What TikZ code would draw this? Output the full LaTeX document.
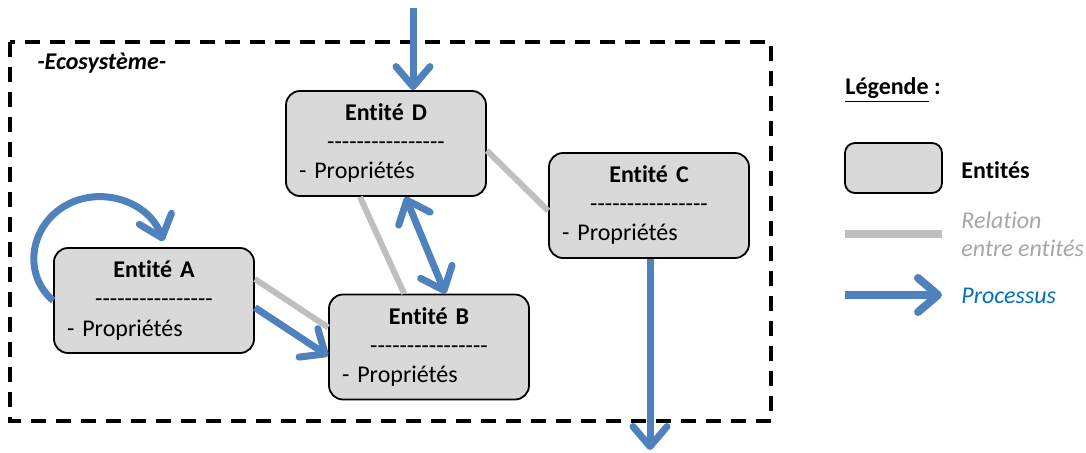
\documentclass[tikz,border=0pt]{standalone}
\usepackage{fontspec}
\setmainfont{Carlito}[Ligatures={NoCommon}]
\usepackage{xcolor}
\usepackage{tikz}
\usetikzlibrary{positioning,arrows.meta,calc}
\definecolor{ecoBlue}{HTML}{4F81BD}
\definecolor{ecoInk}{HTML}{0070C0}
\definecolor{relGrey}{HTML}{BFBFBF}
\definecolor{boxGrey}{HTML}{D9D9D9}
\definecolor{legGrey}{HTML}{A6A6A6}
\tikzset{
  entite/.style={
    draw=black, line width=0.9pt, rounded corners=7pt, fill=boxGrey,
    minimum width=100pt, minimum height=52.5pt, text width=87pt,
    align=center, inner sep=0pt, font=\fontsize{12}{14.5}\selectfont
  },
  relation/.style ={draw=relGrey, line width=3pt},
  processus/.style={draw=ecoBlue, line width=3.5pt},
  cadre/.style    ={draw=black, line width=2pt, dash pattern=on 7.5pt off 5pt},
  legtext/.style  ={font=\fontsize{12}{14.5}\selectfont, anchor=west, inner sep=0pt, align=left},
}
\newcommand{\tirets}{\foreach \nn in {1,...,16}{-\kern0pt}}
\newcommand{\entite}[3]{%
  \node[entite] (#1) at #2
    {\textbf{Entité #3}\\ \tirets\\ \makebox[\linewidth][l]{- Propriétés}};
}
\begin{document}
\begin{tikzpicture}[
  x=0.5pt,y=-0.5pt,
  >={Straight Barb[length=10pt,width=17pt,round]},
]
\useasboundingbox (0,0) rectangle (1086,452);

% --- ecosystem frame --------------------------------------------------------
\draw[cadre] (10,42) rectangle (771,421);
\node[font=\bfseries\itshape\fontsize{12}{14}\selectfont, anchor=west, inner sep=0pt]
  (titre) at (37,63) {-Ecosystème-};

% --- entities ---------------------------------------------------------------
\entite{entD}{(386,143.5)}{D}
\entite{entC}{(649,205.5)}{C}
\entite{entA}{(154,300.5)}{A}
\entite{entB}{(429,347)}{B}

% --- relations between entities ---------------------------------------------
\draw[relation] (entD.-4)  -- (entC.183);
\draw[relation] (entD.244) -- (entB.115);
\draw[relation] (entA.12)  -- (entB.169);

% --- processes ---------------------------------------------------------------
\coordinate (entree) at (413,8);
\coordinate (sortie) at (650,450);
\draw[processus,->] (entree) -- (entree |- entD.north);
\draw[processus,->] (entC.south -| sortie) -- (sortie);
\draw[processus,->] (entA.-4) -- (entB.185);
\draw[processus,<->] (entD.-70) -- (entB.73);
% loop on A
\draw[processus,->] (entA.west)
  .. controls (22,274) and (30,225) .. (66.5,205)
  .. controls (103,185) and (150,203) .. ($(entA.north)+(9,-6)$);

% --- legend ------------------------------------------------------------------
\node[legtext, font=\bfseries\fontsize{12}{14.5}\selectfont] (legtitre) at (845,90)
  {\underline{Légende}~:};
\node[draw=black, line width=0.9pt, rounded corners=5pt, fill=boxGrey,
  minimum width=48.5pt, minimum height=25pt, inner sep=0pt] (legBox) at (893.5,168) {};
\node[legtext, font=\bfseries\fontsize{12}{14.5}\selectfont] (legEnt) at (961,170) {Entités};
\coordinate (relG) at (845,234);
\coordinate (relD) at (942,234);
\draw[relation, line width=4pt] (relG) -- (relD);
\node[legtext, text=legGrey, font=\itshape\fontsize{12}{14}\selectfont] (legRel) at (961,234)
  {Relation\\entre entités};
\coordinate (procG) at (845,295);
\coordinate (procD) at (942,295);
\draw[processus, line width=4pt, ->] (procG) -- (procD);
\node[legtext, text=ecoInk, font=\itshape\fontsize{12}{14.5}\selectfont] (legProc) at (961,296)
  {Processus};

\end{tikzpicture}
\end{document}
